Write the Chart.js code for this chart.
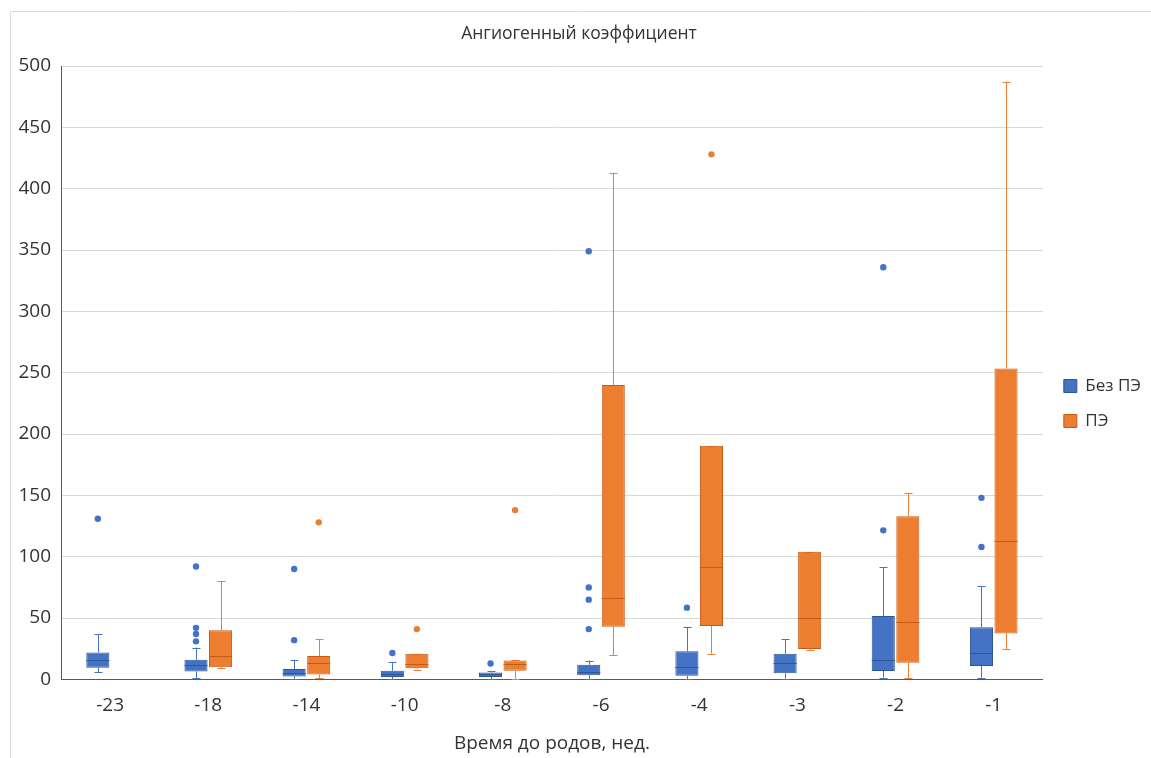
<!DOCTYPE html>
<html>
<head>
<meta charset="utf-8">
<script src="https://cdn.jsdelivr.net/npm/chart.js@4.4.1/dist/chart.umd.min.js"></script>
<style>
  html, body { margin: 0; padding: 0; background: #fff; }
  #wrap { width: 1151px; height: 758px; position: relative; }
</style>
</head>
<body>
<div id="wrap"><canvas id="boxChart"></canvas></div>
<script>
const weeks = ['-23', '-18', '-14', '-10', '-8', '-6', '-4', '-3', '-2', '-1'];

// Без ПЭ
const noPeMin    = [6,   1,   0.5, 0,    0,   0,    0,    0.5,  1.4,  1.4];
const noPeQ1     = [9.5, 6.5, 2.4, 2,    2,   3.4,  3,    5,    6.8,  10.9];
const noPeMedian = [16,  12,  5.5, 4.6,  4,   6,    10.3, 13.6, 15.5, 21.4];
const noPeQ3     = [22,  16,  8.4, 7,    5.7, 12,   23,   21,   51.6, 42.6];
const noPeMax    = [37,  26,  16,  14,   6.5, 15.4, 42.5, 33,   91.7, 76];
const noPeOutliers = [[131], [31, 37, 42, 92], [32, 90], [21.5], [13], [41, 65, 75, 349], [58.5], [], [121.5, 336], [108, 148]];

// ПЭ
const peMin    = [null, 9,  1,   8,    0.5,  20,  21,    24,   0.8,  24.4];
const peQ1     = [null, 10, 4,   9,    7,    43,  43.5,  24.7, 13.6, 37.5];
const peMedian = [null, 19, 13,  12.5, 12.7, 66,  92,    50,   46.7, 112.6];
const peQ3     = [null, 40, 19,  21,   15.5, 240, 190.5, 104,  133,  253.5];
const peMax    = [null, 80, 33,  21,   15.5, 413, 190.5, 104,  152,  487];
const peOutliers = [[], [], [128], [41], [138], [], [428], [], [], []];

const blue = '#4472C4', blueDark = '#2F5597';
const orange = '#ED7D31', orangeDark = '#C55A11';

const stats = [
    { min: noPeMin, med: noPeMedian, max: noPeMax, q1: noPeQ1, q3: noPeQ3, out: noPeOutliers, color: blue, dark: blueDark },
    { min: peMin, med: peMedian, max: peMax, q1: peQ1, q3: peQ3, out: peOutliers, color: orange, dark: orangeDark }
];

const ranges = (lo, hi) => lo.map((v, i) => v === null ? null : [v, hi[i]]);

// frame lines around the plot block
const framePlugin = {
    id: 'frame',
    beforeDraw(chart) {
        const c = chart.ctx;
        c.save();
        c.fillStyle = '#fff';
        c.fillRect(0, 0, chart.width, chart.height);
        c.strokeStyle = '#d9d9d9';
        c.lineWidth = 1;
        c.beginPath();
        c.moveTo(10.5, chart.height);
        c.lineTo(10.5, 11.5);
        c.lineTo(chart.width, 11.5);
        c.stroke();
        c.restore();
    },
    afterLayout(chart) {
        // legend sits a bit lower than the plot centre and a little off the plot edge
        chart.legend.top += 19;
        chart.legend.bottom += 19;
        chart.legend.left += 3;
        chart.legend.right += 3;
    }
};

// whiskers, medians and outliers around the floating bars
const boxPlugin = {
    id: 'boxes',
    beforeDatasetsDraw(chart) {
        const c = chart.ctx, y = chart.scales.y;
        c.save();
        c.lineWidth = 1;
        stats.forEach((s, d) => {
            chart.getDatasetMeta(d).data.forEach((bar, i) => {
                if (s.q1[i] === null) return;
                const x = Math.round(bar.x) + 0.5;
                const cap = 4;
                c.strokeStyle = s.color;
                c.beginPath();
                c.moveTo(x, y.getPixelForValue(s.max[i]));
                c.lineTo(x, y.getPixelForValue(s.q3[i]));
                c.moveTo(x, y.getPixelForValue(s.q1[i]));
                c.lineTo(x, y.getPixelForValue(s.min[i]));
                [s.max[i], s.min[i]].forEach(v => {
                    const py = Math.round(y.getPixelForValue(v)) + 0.5;
                    c.moveTo(x - cap, py);
                    c.lineTo(x + cap, py);
                });
                c.stroke();
            });
        });
        c.restore();
    },
    afterDatasetsDraw(chart) {
        const c = chart.ctx, y = chart.scales.y;
        c.save();
        stats.forEach((s, d) => {
            chart.getDatasetMeta(d).data.forEach((bar, i) => {
                const x = bar.x;
                if (s.q1[i] !== null) {
                    const py = Math.round(y.getPixelForValue(s.med[i])) + 0.5;
                    c.strokeStyle = s.dark;
                    c.lineWidth = 1;
                    c.beginPath();
                    c.moveTo(x - bar.width / 2, py);
                    c.lineTo(x + bar.width / 2, py);
                    c.stroke();
                }
                c.fillStyle = s.color;
                s.out[i].forEach(v => {
                    c.beginPath();
                    c.arc(x, y.getPixelForValue(v), 3.2, 0, Math.PI * 2);
                    c.fill();
                });
            });
        });
        c.restore();
    }
};

const font = "'Open Sans', 'Noto Sans', sans-serif";
const textColor = '#333333';
const ctx = document.getElementById('boxChart').getContext('2d');
const boxChart = new Chart(ctx, {
    type: 'bar',
    plugins: [framePlugin, boxPlugin],
    data: {
        labels: weeks,
        datasets: [
        {
            label: 'Без ПЭ',
            data: ranges(noPeQ1, noPeQ3),
            backgroundColor: blue,
            borderColor: blueDark,
            borderWidth: 1,
            borderSkipped: false
        },
        {
            label: 'ПЭ',
            data: ranges(peQ1, peQ3),
            backgroundColor: orange,
            borderColor: orangeDark,
            borderWidth: 1,
            borderSkipped: false
        }]
    },
    options: {
        responsive: true,
        maintainAspectRatio: false,
        animation: false,
        categoryPercentage: 0.5,
        barPercentage: 0.94,
        layout: {
            padding: { left: 10, top: 11, right: 3, bottom: 0 }
        },
        plugins: {
            title: {
                display: true,
                text: 'Ангиогенный коэффициент',
                color: textColor,
                font: { family: font, size: 17.5, weight: 'normal' },
                padding: { top: 13, bottom: 21 }
            },
            legend: {
                position: 'right',
                labels: {
                    color: textColor,
                    font: { family: font, size: 17 },
                    boxWidth: 13,
                    boxHeight: 13,
                    padding: 18
                }
            },
            tooltip: { enabled: false }
        },
        scales: {
            x: {
                grid: { display: false, drawTicks: false },
                border: { color: '#595959', width: 1 },
                ticks: {
                    color: textColor,
                    font: { family: font, size: 19 },
                    padding: 15
                },
                title: {
                    display: true,
                    text: 'Время до родов, нед.',
                    color: textColor,
                    font: { family: font, size: 19 },
                    padding: { top: 0, bottom: 3 }
                }
            },
            y: {
                min: 0,
                max: 500,
                afterFit(scale) { scale.width = 51; },
                grid: { color: '#d9d9d9', drawTicks: false },
                border: { color: '#595959', width: 1 },
                ticks: {
                    stepSize: 50,
                    color: textColor,
                    font: { family: font, size: 19 },
                    padding: 10
                }
            }
        }
    }
});
</script>
</body>
</html>
